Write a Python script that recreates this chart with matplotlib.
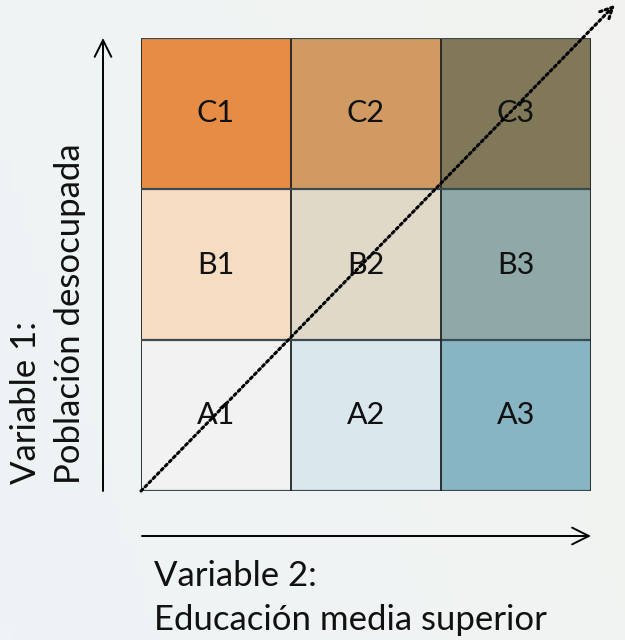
import matplotlib
matplotlib.use("Agg")
import matplotlib.pyplot as plt
import numpy as np
from matplotlib.colors import to_rgb

plt.rcParams['font.family'] = ['Lato', 'DejaVu Sans']

# bivariate legend: rows A (low) .. C (high), columns 1..3
row_names = ['A', 'B', 'C']
col_names = ['1', '2', '3']
cell_colors = [
    ['#F2F2F2', '#DAE8EE', '#88B5C4'],   # A
    ['#F7DCC4', '#E0D9C8', '#8FA9A8'],   # B
    ['#E68C45', '#D29A63', '#807858'],   # C
]
y_label = 'Variable 1:\nPoblación desocupada'
x_label = 'Variable 2:\nEducación media superior'

W, H = 625, 640
fig = plt.figure(figsize=(W / 100, H / 100), dpi=100)

# soft background
bg = fig.add_axes([0, 0, 1, 1])
gx, gy = np.meshgrid(np.linspace(0, 1, 50), np.linspace(0, 1, 50))
top = np.array(to_rgb('#EDF3F6'))
warm = np.array(to_rgb('#F8F4EA'))
t = np.clip((gx * 0.6 + (1 - gy) * 0.2), 0, 1)[..., None] * 0.6
bg.imshow(top * (1 - t) + warm * t, extent=(0, 1, 0, 1), aspect='auto', origin='upper')
bg.set_xlim(0, 1)
bg.set_ylim(0, 1)
bg.axis('off')

# grid of cells
ax = fig.add_axes([141 / W, 1 - 491 / H, 450 / W, 453 / H])
rgb = np.array([[to_rgb(c) for c in row] for row in cell_colors])
ax.imshow(rgb, extent=(0, 3, 0, 3), origin='lower', aspect='auto')
for k in range(4):
    ax.axvline(k, color='#222222', lw=1.3)
    ax.axhline(k, color='#3a4a50', lw=1.6)
for i, r in enumerate(row_names):
    for j, c in enumerate(col_names):
        ax.text(j + 0.5, i + 0.5, r + c, ha='center', va='center',
                fontsize=22, color='#111111')
ax.set_xlim(0, 3)
ax.set_ylim(0, 3)
ax.axis('off')

# diagonal dotted arrow
ax.annotate('', xy=(3.16, 3.22), xytext=(0, 0),
            arrowprops=dict(arrowstyle='->', linestyle=(0, (0.8, 1.1)), lw=2.2,
                            color='black', mutation_scale=22,
                            shrinkA=0, shrinkB=0),
            annotation_clip=False)

# axis arrows
arrow_kw = dict(arrowstyle='->', lw=1.4, color='black', mutation_scale=30,
                shrinkA=0, shrinkB=0)
ax.annotate('', xy=(103, H - 38), xytext=(103, H - 491),
            xycoords='figure pixels', textcoords='figure pixels',
            arrowprops=arrow_kw, annotation_clip=False)
ax.annotate('', xy=(591, H - 536), xytext=(142, H - 536),
            xycoords='figure pixels', textcoords='figure pixels',
            arrowprops=arrow_kw, annotation_clip=False)

fig.text(10 / W, 1 - 484 / H, y_label, rotation=90, ha='left', va='bottom',
         multialignment='left', fontsize=25, linespacing=1.45, color='#111111')
fig.text(154 / W, 1 - 636 / H, x_label, ha='left', va='bottom',
         multialignment='left', fontsize=25, linespacing=1.45, color='#111111')

fig.savefig('out.png', dpi=100)
